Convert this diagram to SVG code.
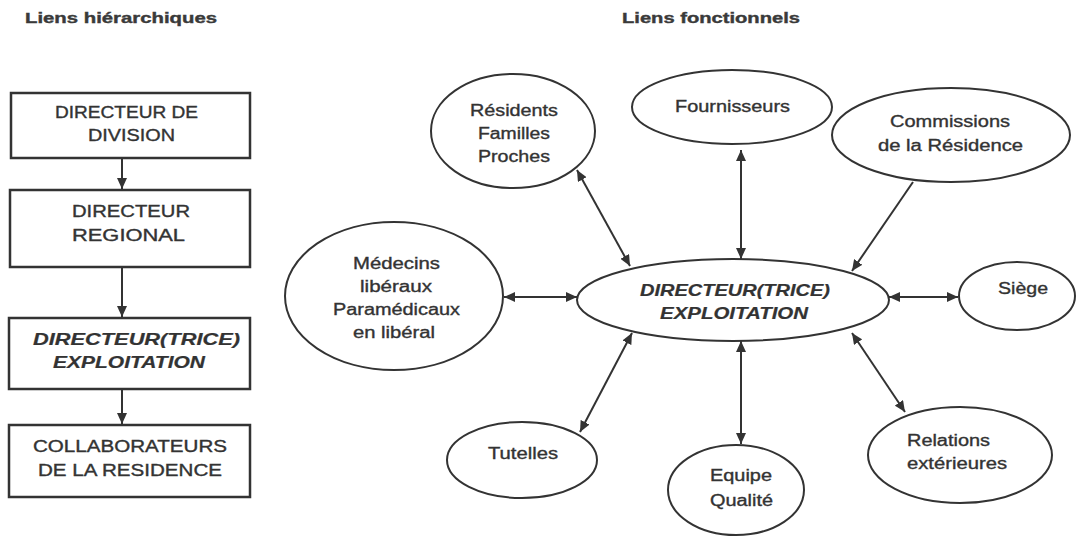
<svg xmlns="http://www.w3.org/2000/svg" width="1083" height="538" viewBox="0 0 1083 538">
<defs>
<style>
.t{font-family:"Liberation Sans",Arial,sans-serif;font-size:16px;fill:#333;stroke:#333;stroke-width:0.35;}
.title{font-family:"Liberation Sans",Arial,sans-serif;font-size:15px;font-weight:bold;fill:#3a3a3a;stroke:#3a3a3a;stroke-width:0.4;}
.bi{font-weight:bold;font-style:italic;stroke-width:0.2;}
.box{fill:#fff;stroke:#333;stroke-width:2.5;}
.ell{fill:#fff;stroke:#333;stroke-width:2;}
.ln{stroke:#333;stroke-width:2;fill:none;}
</style>
<marker id="ah" markerUnits="userSpaceOnUse" markerWidth="12" markerHeight="10" refX="11" refY="5" orient="auto-start-reverse">
<path d="M0,0 L11,5 L0,10 z" fill="#333"/>
</marker>
</defs>
<rect width="1083" height="538" fill="#fff"/>

<text class="title" x="25" y="23" textLength="192" lengthAdjust="spacingAndGlyphs">Liens hiérarchiques</text>
<text class="title" x="622" y="23" textLength="178" lengthAdjust="spacingAndGlyphs">Liens fonctionnels</text>

<g id="connectors">
<line class="ln" x1="122" y1="158" x2="122" y2="189" marker-end="url(#ah)"/>
<line class="ln" x1="122" y1="267" x2="122" y2="317" marker-end="url(#ah)"/>
<line class="ln" x1="122" y1="389" x2="122" y2="424" marker-end="url(#ah)"/>
<line class="ln" x1="577" y1="170" x2="630" y2="266" marker-start="url(#ah)" marker-end="url(#ah)"/>
<line class="ln" x1="741" y1="150" x2="741" y2="259" marker-start="url(#ah)" marker-end="url(#ah)"/>
<line class="ln" x1="913" y1="182" x2="852" y2="271" marker-end="url(#ah)"/>
<line class="ln" x1="504" y1="297" x2="577" y2="297" marker-start="url(#ah)" marker-end="url(#ah)"/>
<line class="ln" x1="889" y1="297" x2="958" y2="297" marker-start="url(#ah)" marker-end="url(#ah)"/>
<line class="ln" x1="632" y1="333" x2="580" y2="432" marker-start="url(#ah)" marker-end="url(#ah)"/>
<line class="ln" x1="741" y1="341" x2="741" y2="444" marker-start="url(#ah)" marker-end="url(#ah)"/>
<line class="ln" x1="852" y1="333" x2="905" y2="412" marker-start="url(#ah)" marker-end="url(#ah)"/>
</g>

<g id="directeur-division">
<rect class="box" x="11" y="93" width="239" height="65"/>
<text class="t" x="55" y="118" textLength="143" lengthAdjust="spacingAndGlyphs">DIRECTEUR DE</text>
<text class="t" x="88" y="141" textLength="87" lengthAdjust="spacingAndGlyphs">DIVISION</text>
</g>
<g id="directeur-regional">
<rect class="box" x="10" y="190" width="240" height="77"/>
<text class="t" x="72" y="217" textLength="118" lengthAdjust="spacingAndGlyphs">DIRECTEUR</text>
<text class="t" x="72" y="241" textLength="113" lengthAdjust="spacingAndGlyphs">REGIONAL</text>
</g>
<g id="directeur-exploitation-h">
<rect class="box" x="9" y="318" width="241" height="71"/>
<text class="t bi" x="33" y="345" textLength="207" lengthAdjust="spacingAndGlyphs">DIRECTEUR(TRICE)</text>
<text class="t bi" x="53" y="368" textLength="152" lengthAdjust="spacingAndGlyphs">EXPLOITATION</text>
</g>
<g id="collaborateurs">
<rect class="box" x="9" y="425" width="241" height="72"/>
<text class="t" x="33" y="452" textLength="194" lengthAdjust="spacingAndGlyphs">COLLABORATEURS</text>
<text class="t" x="38" y="476" textLength="184" lengthAdjust="spacingAndGlyphs">DE LA RESIDENCE</text>
</g>

<g id="residents">
<ellipse class="ell" cx="513" cy="131" rx="82" ry="57"/>
<text class="t" x="470" y="116" textLength="88" lengthAdjust="spacingAndGlyphs">Résidents</text>
<text class="t" x="478" y="139" textLength="72" lengthAdjust="spacingAndGlyphs">Familles</text>
<text class="t" x="478" y="162" textLength="72" lengthAdjust="spacingAndGlyphs">Proches</text>
</g>
<g id="fournisseurs">
<ellipse class="ell" cx="732" cy="107" rx="100" ry="37"/>
<text class="t" x="675" y="112" textLength="115" lengthAdjust="spacingAndGlyphs">Fournisseurs</text>
</g>
<g id="commissions">
<ellipse class="ell" cx="951" cy="135" rx="119" ry="47"/>
<text class="t" x="890" y="127" textLength="120" lengthAdjust="spacingAndGlyphs">Commissions</text>
<text class="t" x="878" y="151" textLength="145" lengthAdjust="spacingAndGlyphs">de la Résidence</text>
</g>
<g id="medecins">
<ellipse class="ell" cx="394" cy="296" rx="109" ry="74"/>
<text class="t" x="353" y="269" textLength="87" lengthAdjust="spacingAndGlyphs">Médecins</text>
<text class="t" x="360" y="292" textLength="72" lengthAdjust="spacingAndGlyphs">libéraux</text>
<text class="t" x="333" y="315" textLength="127" lengthAdjust="spacingAndGlyphs">Paramédicaux</text>
<text class="t" x="353" y="338" textLength="82" lengthAdjust="spacingAndGlyphs">en libéral</text>
</g>
<g id="directeur-exploitation">
<ellipse class="ell" cx="733" cy="300" rx="156" ry="41"/>
<text class="t bi" x="640" y="296" textLength="190" lengthAdjust="spacingAndGlyphs">DIRECTEUR(TRICE)</text>
<text class="t bi" x="660" y="319" textLength="148" lengthAdjust="spacingAndGlyphs">EXPLOITATION</text>
</g>
<g id="siege">
<ellipse class="ell" cx="1017" cy="296" rx="58" ry="34"/>
<text class="t" x="998" y="294" textLength="50" lengthAdjust="spacingAndGlyphs">Siège</text>
</g>
<g id="tutelles">
<ellipse class="ell" cx="522" cy="460" rx="75" ry="38"/>
<text class="t" x="488" y="459" textLength="70" lengthAdjust="spacingAndGlyphs">Tutelles</text>
</g>
<g id="equipe-qualite">
<ellipse class="ell" cx="736" cy="490" rx="68" ry="45"/>
<text class="t" x="710" y="481" textLength="62" lengthAdjust="spacingAndGlyphs">Equipe</text>
<text class="t" x="710" y="506" textLength="63" lengthAdjust="spacingAndGlyphs">Qualité</text>
</g>
<g id="relations">
<ellipse class="ell" cx="960" cy="455" rx="92" ry="48"/>
<text class="t" x="907" y="446" textLength="83" lengthAdjust="spacingAndGlyphs">Relations</text>
<text class="t" x="907" y="469" textLength="100" lengthAdjust="spacingAndGlyphs">extérieures</text>
</g>
</svg>
